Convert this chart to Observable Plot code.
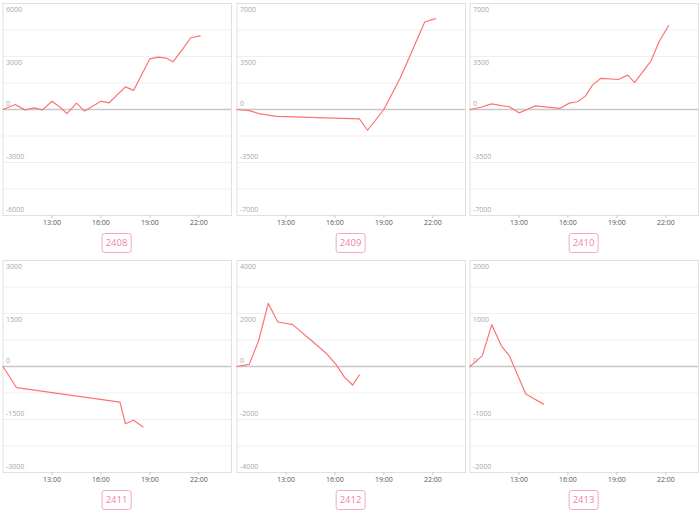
<!DOCTYPE html>
<html><head><meta charset="utf-8">
<script src="https://cdn.jsdelivr.net/npm/d3@7"></script>
<script src="https://cdn.jsdelivr.net/npm/@observablehq/plot@0.6"></script>
<style>
body{margin:0;background:#fff;}
#root{position:relative;width:700px;height:514px;font-family:"Open Sans",sans-serif;overflow:hidden;background:#fff}
.panel{position:absolute;width:233px;height:256px;}
.panel svg{display:block;}
.tag{position:absolute;top:233px;left:50%;transform:translateX(-50%);border:1px solid #f7a6c2;border-radius:3px;color:#f27fa6;font-size:9.5px;height:18px;line-height:18px;padding:0 3.5px;white-space:nowrap;}
</style></head><body><div id="root"></div>
<script>
// ---- data ----
const contracts = ["2408", "2409", "2410", "2411", "2412", "2413"];
const yLimits = [6000, 7000, 7000, 3000, 4000, 2000];
const xTickHours = [13, 16, 19, 22];

const times2408 = ["10:00","10:45","11:20","11:55","12:25","13:00","13:25","13:55","14:30","15:00","16:00","16:30","17:30","18:00","19:00","19:30","20:00","20:25","21:00","21:30","22:05"];
const values2408 = [0,280,-20,90,-20,470,190,-230,360,-90,470,380,1280,1080,2870,2960,2910,2700,3400,4060,4170];

const times2409 = ["10:00","10:45","11:25","12:25","17:30","18:00","19:00","20:00","20:30","21:30","22:10"];
const values2409 = [0,-70,-290,-460,-620,-1370,0,2080,3300,5780,6000];

const times2410 = ["10:00","10:40","11:20","11:55","12:25","13:00","13:30","14:00","15:30","16:05","16:35","17:05","17:30","18:00","19:05","19:40","20:05","20:35","21:05","21:35","22:10"];
const values2410 = [0,150,370,260,180,-220,0,240,70,420,510,900,1610,2050,1980,2270,1780,2490,3190,4470,5550];

const times2411 = ["10:00","10:50","17:10","17:30","18:00","18:35"];
const values2411 = [0,-600,-1010,-1620,-1520,-1710];

const times2412 = ["10:00","10:45","11:20","11:55","12:30","13:25","14:30","15:30","16:05","16:35","17:05","17:30"];
const values2412 = [0,80,990,2380,1680,1580,1010,480,60,-400,-700,-320];

const times2413 = ["10:00","10:45","11:20","11:55","12:25","13:25","14:30"];
const values2413 = [0,200,790,390,200,-520,-710];

const seriesTimes = [times2408, times2409, times2410, times2411, times2412, times2413];
const seriesValues = [values2408, values2409, values2410, values2411, values2412, values2413];

// ---- drawing ----
const toH = t => { const [h, m] = t.split(":").map(Number); return h + m / 60; };
const root = document.getElementById("root");
const lefts = [0, 234, 467];
const tops = [0, 256.7];

contracts.forEach((name, i) => {
  const m = yLimits[i];
  const data = seriesTimes[i].map((t, j) => ({h: toH(t), v: seriesValues[i][j]}));
  const grid = d3.range(-4, 5).map(k => k * m / 4);
  const labels = [m, m / 2, 0, -m / 2, -m];
  const chart = Plot.plot({
    width: 233, height: 232,
    marginLeft: 2.5, marginRight: 2, marginTop: 3, marginBottom: 17,
    style: {fontFamily: "Open Sans", background: "transparent", fontSize: "7px"},
    x: {domain: [10, 24], axis: null},
    y: {domain: [-m, m], axis: null},
    marks: [
      Plot.gridY(grid, {stroke: "#efefef", strokeOpacity: 1}),
      Plot.frame({stroke: "#e0e0e0"}),
      Plot.ruleY([0], {stroke: "#c8c8c8", strokeWidth: 1.3}),
      Plot.line(data, {x: "h", y: "v", stroke: "#ff7272", strokeWidth: 1.2}),
      Plot.text(labels.filter(v => v > 0), {y: d => d, text: d => String(d), frameAnchor: "left", textAnchor: "start", dx: 3, dy: 6, fill: "#a8a8a8", fontSize: 7}),
      Plot.text(labels.filter(v => v <= 0), {y: d => d, text: d => String(d), frameAnchor: "left", textAnchor: "start", dx: 3, dy: -6, fill: "#a8a8a8", fontSize: 7}),
      Plot.axisX(xTickHours, {tickSize: 3, tickPadding: 2, tickFormat: d => `${d}:00`, stroke: "#c8c8c8", fill: "#555", fontSize: 7, label: null})
    ]
  });
  const div = document.createElement("div");
  div.className = "panel";
  div.style.left = lefts[i % 3] + "px";
  div.style.top = tops[Math.floor(i / 3)] + "px";
  div.appendChild(chart);
  const tag = document.createElement("div");
  tag.className = "tag";
  tag.textContent = name;
  div.appendChild(tag);
  root.appendChild(div);
});
</script></body></html>
